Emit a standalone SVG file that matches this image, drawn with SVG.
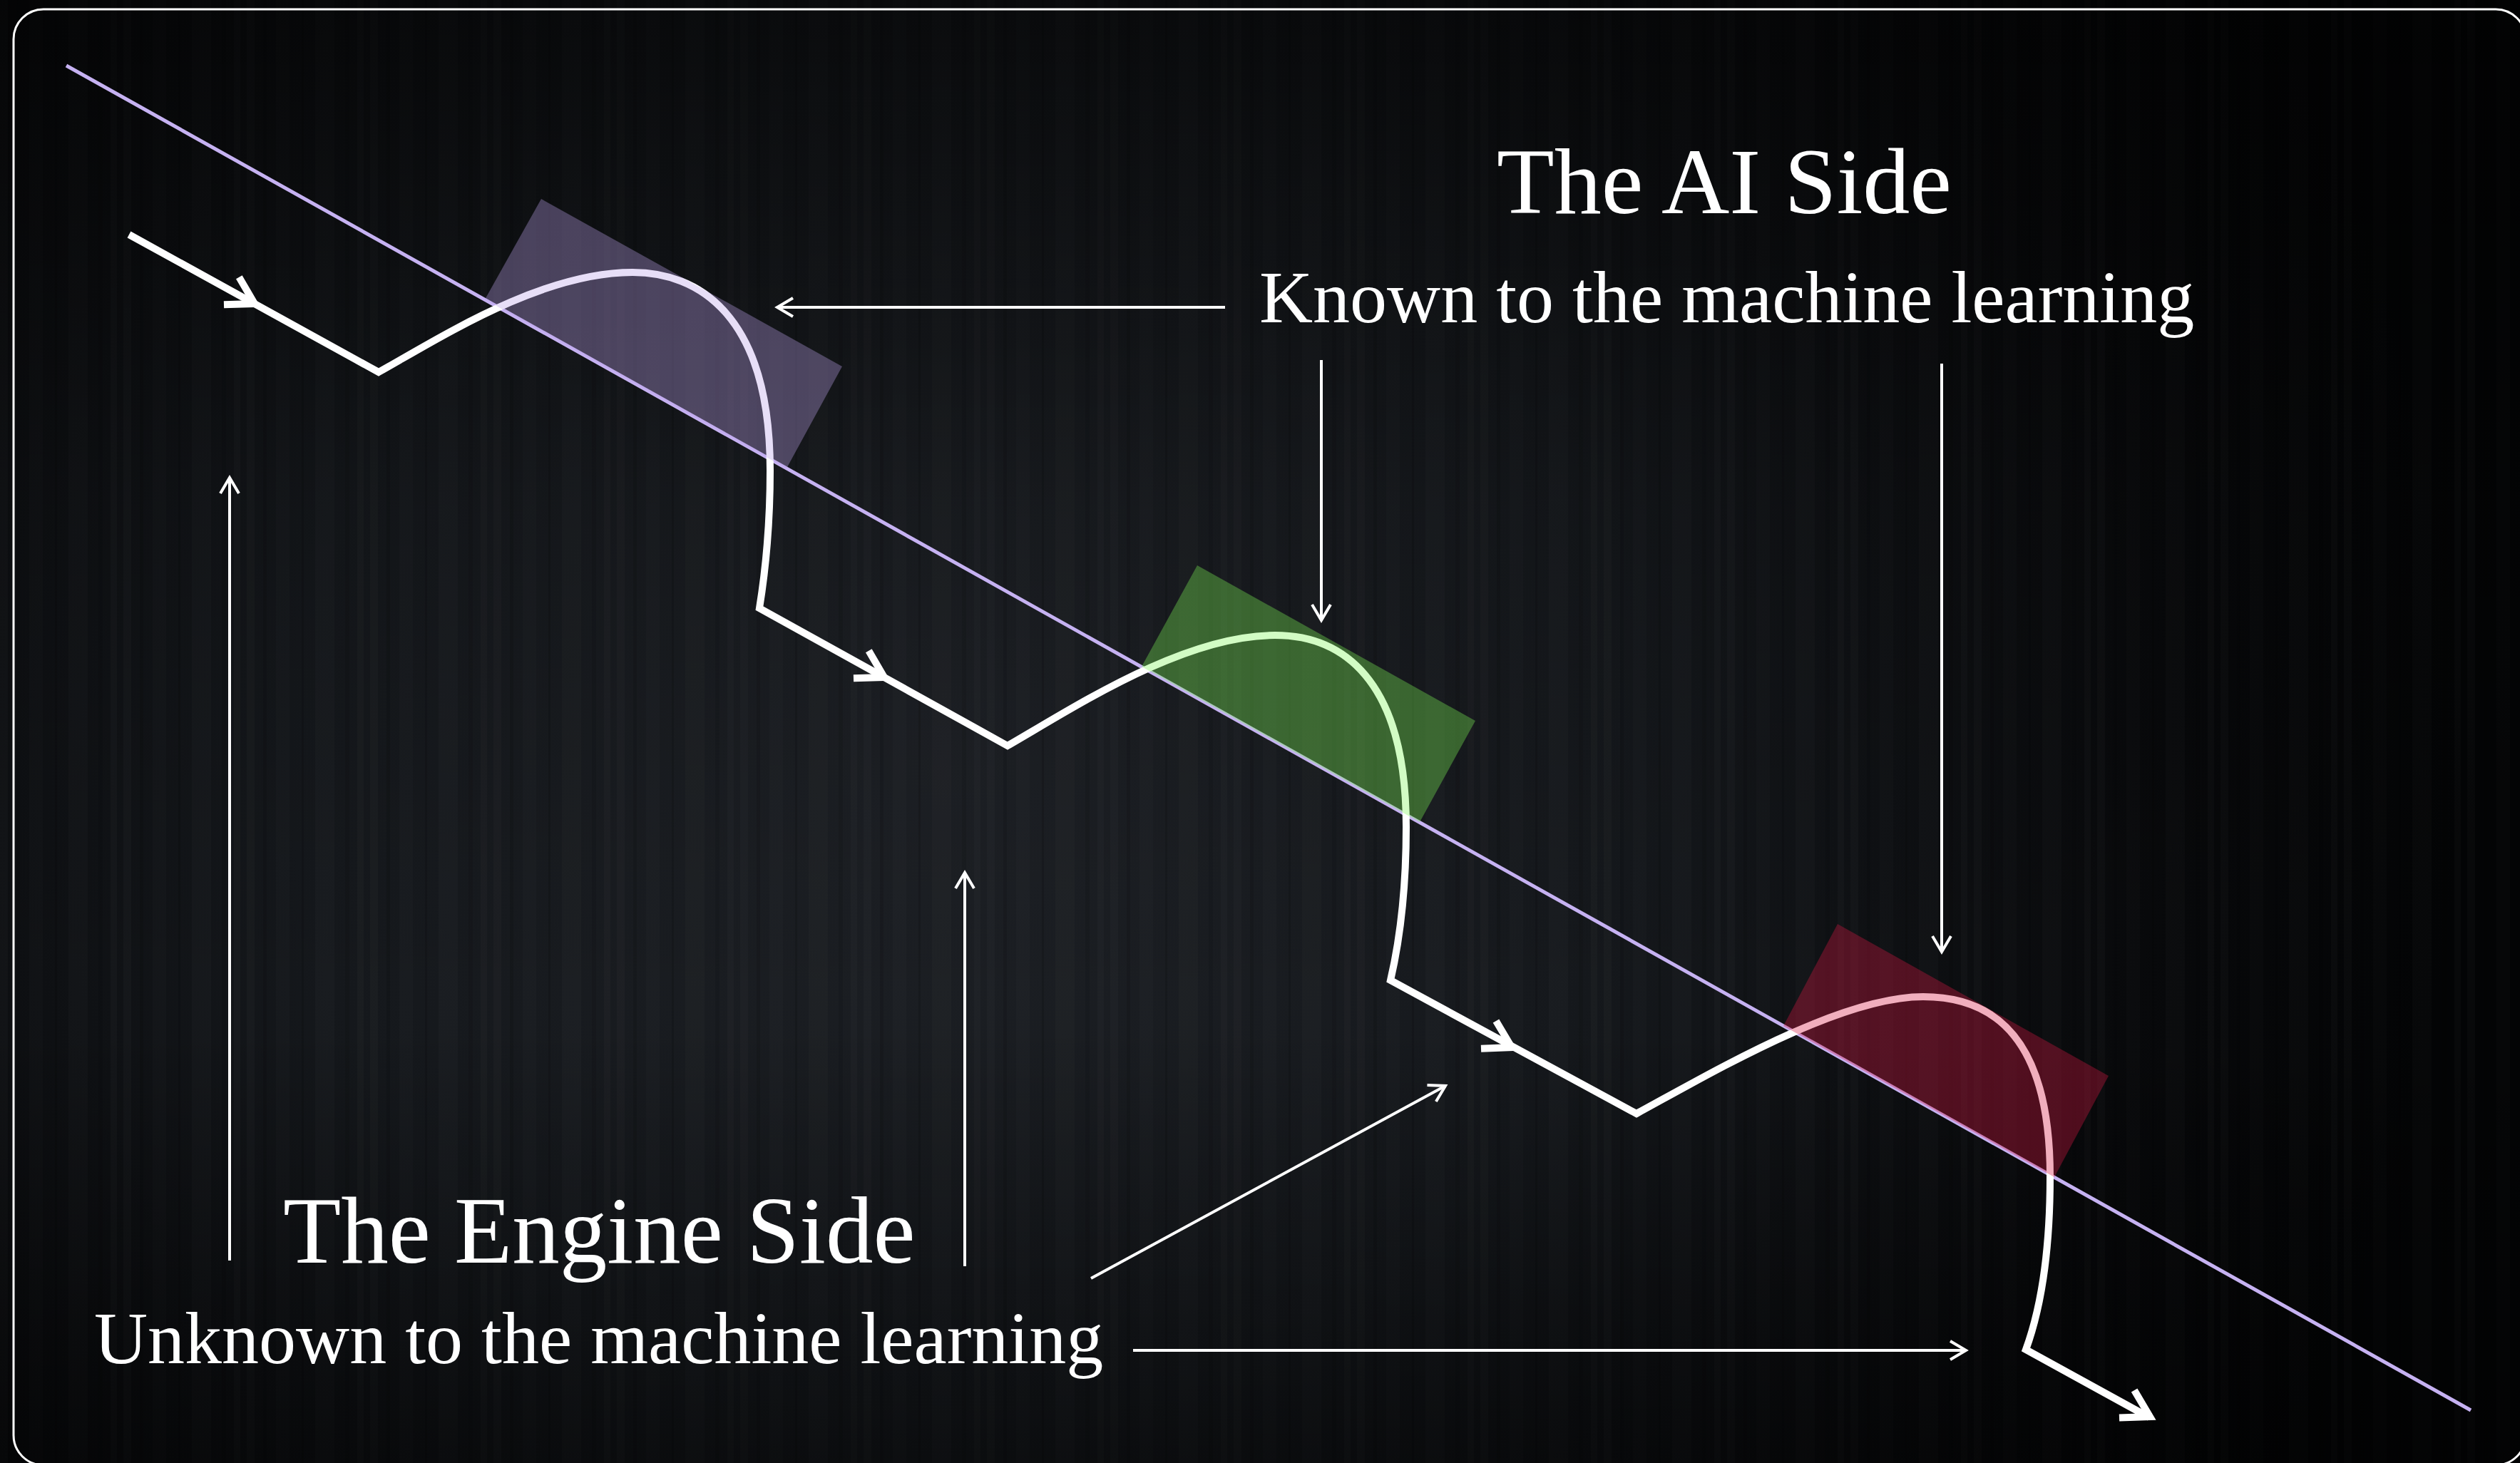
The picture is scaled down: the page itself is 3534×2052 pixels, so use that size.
<svg xmlns="http://www.w3.org/2000/svg" width="3534" height="2052" viewBox="0 0 3534 2052">
  <style>
    .axis { stroke: #c6b2f2; stroke-width: 5; fill: none; }
    .trail { stroke: #ffffff; stroke-width: 10; fill: none; stroke-linejoin: miter; stroke-miterlimit: 10; }
    .chev { stroke: #ffffff; stroke-width: 10; fill: none; stroke-linejoin: miter; }
    .thin { stroke: #ffffff; stroke-width: 4; fill: none; marker-end: url(#thinhead); }
    .title { font-family: "Liberation Serif", "Times New Roman", serif; fill: #ffffff; }
    .frame { stroke: #ffffff; stroke-width: 3; fill: none; }
  </style>
  <defs>
    <radialGradient id="bg" gradientUnits="userSpaceOnUse" cx="1350" cy="1050" r="2100">
      <stop offset="0" stop-color="#1e2126"/>
      <stop offset="0.45" stop-color="#15181c"/>
      <stop offset="0.8" stop-color="#08090b"/>
      <stop offset="1" stop-color="#030405"/>
    </radialGradient>
    <linearGradient id="topfade" x1="0" y1="0" x2="0" y2="1">
      <stop offset="0" stop-color="#000000" stop-opacity="0.55"/>
      <stop offset="0.35" stop-color="#000000" stop-opacity="0.15"/>
      <stop offset="0.7" stop-color="#000000" stop-opacity="0"/>
      <stop offset="1" stop-color="#000000" stop-opacity="0.45"/>
    </linearGradient>
    <pattern id="streaks" patternUnits="userSpaceOnUse" width="173" height="2052">
      <rect x="0" y="0" width="11" height="2052" fill="#ffffff" opacity="0.018"/>
      <rect x="23" y="0" width="5" height="2052" fill="#000000" opacity="0.12"/>
      <rect x="41" y="0" width="19" height="2052" fill="#ffffff" opacity="0.012"/>
      <rect x="77" y="0" width="3" height="2052" fill="#000000" opacity="0.15"/>
      <rect x="96" y="0" width="27" height="2052" fill="#ffffff" opacity="0.015"/>
      <rect x="138" y="0" width="6" height="2052" fill="#000000" opacity="0.1"/>
      <rect x="155" y="0" width="9" height="2052" fill="#ffffff" opacity="0.02"/>
    </pattern>
    <path id="chevron" class="chev" d="M-37,-22 L0,0 L-37,22"/>
    <marker id="thinhead" markerUnits="userSpaceOnUse" viewBox="-30 -20 40 40" refX="0" refY="0" markerWidth="40" markerHeight="40" orient="auto" overflow="visible">
      <path d="M-22,-13 L0,0 L-22,13" stroke="#ffffff" stroke-width="4" fill="none"/>
    </marker>
  </defs>

  <g id="background">
    <rect x="0" y="0" width="3534" height="2052" fill="url(#bg)"/>
    <rect x="0" y="0" width="3534" height="2052" fill="url(#streaks)"/>
    <rect x="0" y="0" width="3534" height="2052" fill="url(#topfade)"/>
    <rect class="frame" x="19" y="13" width="3523" height="2042" rx="42" ry="42"/>
  </g>

  <g id="axis">
    <line class="axis" x1="93" y1="92" x2="3465" y2="1978"/>
  </g>

  <g id="trail">
    <path class="trail" d="M181,329 L531,522 C620,472 760,382 887,382 C978,382 1080,440 1080,660 Q1080,760 1065,853 L1413,1046 C1510,990 1660,891 1788,891 C1880,891 1972,950 1972,1160 Q1972,1280 1950,1375 L2295,1562 C2400,1505 2580,1398 2697,1398 C2800,1398 2875,1460 2875,1650 Q2875,1800 2841,1893 L3014,1988"/>
    <use href="#chevron" transform="translate(357,426) rotate(29)"/>
    <use href="#chevron" transform="translate(1240,950) rotate(29)"/>
    <use href="#chevron" transform="translate(2120,1469) rotate(28.5)"/>
    <use href="#chevron" transform="translate(3015,1987) rotate(28.7)"/>
  </g>

  <g id="zone-purple">
    <polygon points="759,279 1181,514 1103,657 680,420" fill="#b9a1e7" fill-opacity="0.35"/>
  </g>
  <g id="zone-green">
    <polygon points="1679,793 2069,1011 1991,1153 1601,935" fill="#7df755" fill-opacity="0.35"/>
  </g>
  <g id="zone-red">
    <polygon points="2577,1296 2957,1509 2881,1651 2501,1439" fill="#d81841" fill-opacity="0.35"/>
  </g>

  <g id="connectors">
    <line class="thin" x1="1718" y1="431" x2="1090" y2="431"/>
    <line class="thin" x1="1853" y1="505" x2="1853" y2="870"/>
    <line class="thin" x1="2723" y1="510" x2="2723" y2="1335"/>
    <line class="thin" x1="322" y1="1768" x2="322" y2="670"/>
    <line class="thin" x1="1353" y1="1776" x2="1353" y2="1224"/>
    <line class="thin" x1="1530" y1="1793" x2="2027" y2="1523"/>
    <line class="thin" x1="1589" y1="1894" x2="2757" y2="1894"/>
  </g>

  <g id="label-ai-side">
    <text class="title" x="2099" y="299" font-size="132">The AI Side</text>
    <text class="title" x="1766" y="452" font-size="104">Known to the machine learning</text>
  </g>
  <g id="label-engine-side">
    <text class="title" x="397" y="1771" font-size="133">The Engine Side</text>
    <text class="title" x="132" y="1912" font-size="104">Unknown to the machine learning</text>
  </g>
</svg>
